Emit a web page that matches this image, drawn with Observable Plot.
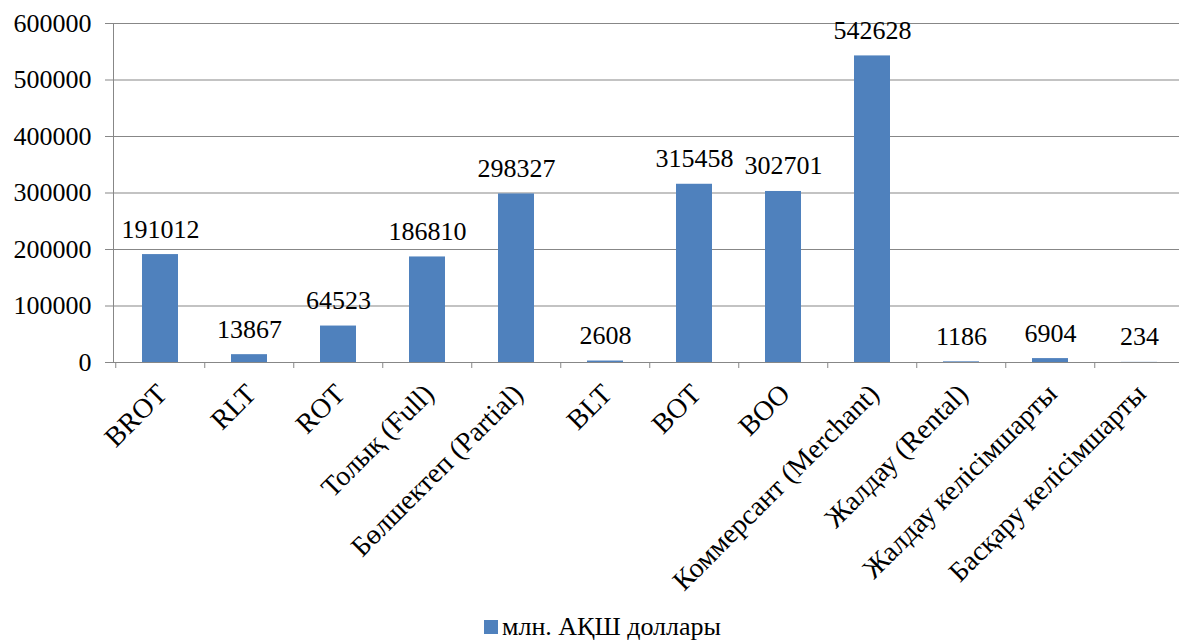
<!DOCTYPE html>
<html>
<head>
<meta charset="utf-8">
<script src="https://cdn.jsdelivr.net/npm/d3@7"></script>
<script src="https://cdn.jsdelivr.net/npm/@observablehq/plot@0.6"></script>
<style>
  html, body { margin: 0; padding: 0; background: #fff; }
  #wrap { position: relative; width: 1179px; height: 642px; overflow: hidden; font-family: "Liberation Serif", "Times New Roman", serif; }
  #chart svg { font-family: "Liberation Serif", "Times New Roman", serif !important; }
  #legend { position: absolute; left: 484px; top: 612px; font-size: 26px; line-height: 30px; color: #000; display: flex; align-items: center; white-space: nowrap; }
  #legend .sw { width: 14px; height: 14px; background: #4F81BD; margin-right: 4px; display: inline-block; }
</style>
</head>
<body>
<div id="wrap">
  <div id="chart"></div>
  <div id="legend"><span class="sw"></span><span>млн. АҚШ доллары</span></div>
</div>
<script>
const categories = ["BROT", "RLT", "ROT", "Толық (Full)", "Бөлшектеп (Partial)", "BLT", "BOT", "BOO", "Коммерсант (Merchant)", "Жалдау (Rental)", "Жалдау келісімшарты", "Басқару келісімшарты"];
const values = [191012, 13867, 64523, 186810, 298327, 2608, 315458, 302701, 542628, 1186, 6904, 234];
const yTicks = [0, 100000, 200000, 300000, 400000, 500000, 600000];
const seriesName = "млн. АҚШ доллары";

const data = categories.map((c, i) => ({category: c, value: values[i]}));

const W = 1179, H = 612, mL = 113, mR = -8, mT = 23, mB = H - 362;
const step = (W - mL - mR) / categories.length;
const font = "'Liberation Serif', 'Times New Roman', serif";
const gray = "#878787";

const chart = Plot.plot({
  width: W,
  height: H,
  marginLeft: mL,
  marginRight: mR,
  marginTop: mT,
  marginBottom: mB,
  style: {fontFamily: font, background: "#fff", color: "#000", overflow: "visible"},
  x: {type: "band", domain: categories, paddingInner: 0.59, paddingOuter: 0.295, axis: null, label: null},
  y: {domain: [0, 600000], axis: null, label: null},
  marks: [
    Plot.gridY(yTicks, {stroke: gray, strokeOpacity: 1, strokeWidth: 1}),
    Plot.axisY(yTicks, {tickSize: 8, tickPadding: 14, stroke: gray, strokeOpacity: 1, fontSize: 26, fontFamily: font, tickFormat: d => String(d), fill: "#000", label: null}),
    Plot.frame({anchor: "left", stroke: gray, strokeWidth: 1}),
    Plot.barY(data, {x: "category", y: "value", fill: "#4F81BD"}),
    Plot.axisX({tickSize: 6, tickFormat: () => "", dx: -step / 2, stroke: gray, strokeOpacity: 1, label: null}),
    Plot.text(data, {x: "category", y: "value", text: d => String(d.value), lineAnchor: "bottom", dy: -17, fontSize: 26, fontFamily: font, fill: "#000"}),
    Plot.text(data, {x: "category", y: () => 0, text: "category", rotate: -45, textAnchor: "end", lineAnchor: "top", dx: -6, dy: 19, fontSize: 28, fontFamily: font, fill: "#000"})
  ]
});
document.getElementById("chart").appendChild(chart);
</script>
</body>
</html>
